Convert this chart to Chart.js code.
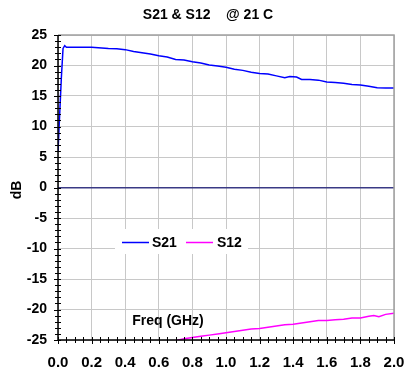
<!DOCTYPE html>
<html><head><meta charset="utf-8">
<script src="https://cdn.jsdelivr.net/npm/chart.js@4.4.1/dist/chart.umd.min.js"></script>
<style>html,body{margin:0;padding:0;background:#fff}#wrap{width:405px;height:371px}</style>
</head><body><div id="wrap"><canvas id="c" width="405" height="371"></canvas></div>
<script>
const titleText = 'S21 & S12    @ 21 C';
const xTitle = 'Freq (GHz)';
const yTitle = 'dB';
const seriesNames = ['S21', 'S12'];
const xTicks = [0, 0.2, 0.4, 0.6, 0.8, 1.0, 1.2, 1.4, 1.6, 1.8, 2.0];
const yTicks = [-25, -20, -15, -10, -5, 0, 5, 10, 15, 20, 25];
const s21Freq = [0, 0.01, 0.02, 0.03, 0.04, 0.05, 0.1, 0.2, 0.3, 0.35, 0.4, 0.45, 0.5, 0.55, 0.6, 0.65, 0.7, 0.75, 0.8, 0.85, 0.9, 0.95, 1.0, 1.05, 1.1, 1.15, 1.2, 1.25, 1.3, 1.35, 1.38, 1.42, 1.45, 1.5, 1.55, 1.6, 1.65, 1.7, 1.75, 1.8, 1.85, 1.9, 1.95, 2.0];
const s21Values = [5.9, 12, 18, 22.8, 23.25, 23.0, 23.0, 23.0, 22.8, 22.75, 22.6, 22.3, 22.1, 21.9, 21.6, 21.4, 21.0, 20.9, 20.6, 20.4, 20.1, 19.9, 19.7, 19.4, 19.2, 18.9, 18.7, 18.6, 18.3, 18.0, 18.2, 18.1, 17.7, 17.7, 17.6, 17.3, 17.2, 17.1, 16.9, 16.8, 16.6, 16.35, 16.3, 16.3];
const s12Freq = [0.5, 0.6, 0.7, 0.75, 0.8, 0.85, 0.9, 0.95, 1.0, 1.05, 1.1, 1.15, 1.2, 1.25, 1.3, 1.35, 1.4, 1.45, 1.5, 1.55, 1.6, 1.65, 1.7, 1.75, 1.8, 1.85, 1.88, 1.91, 1.95, 2.0];
const s12Values = [-26.5, -25.8, -25.1, -24.8, -24.6, -24.4, -24.2, -24.0, -23.8, -23.6, -23.4, -23.2, -23.1, -22.9, -22.7, -22.5, -22.4, -22.2, -22.0, -21.8, -21.8, -21.7, -21.6, -21.4, -21.4, -21.1, -21.0, -21.2, -20.8, -20.6];

const FONT = "'Liberation Sans', Arial, sans-serif";
const toXY = (xs, ys) => xs.map((x, i) => ({x: x, y: ys[i]}));

const extras = {
  id: 'extras',
  beforeDatasetsDraw(chart) {
    const ctx = chart.ctx;
    ctx.save();
    ctx.fillStyle = '#fff';
    ctx.fillRect(115, 229, 133, 25);
    ctx.lineWidth = 1.5;
    ctx.strokeStyle = '#0000ff';
    ctx.beginPath(); ctx.moveTo(122, 242.5); ctx.lineTo(149, 242.5); ctx.stroke();
    ctx.strokeStyle = '#ff00ff';
    ctx.beginPath(); ctx.moveTo(186, 242.5); ctx.lineTo(213, 242.5); ctx.stroke();
    ctx.fillStyle = '#000';
    ctx.font = 'bold 14px ' + FONT;
    ctx.textBaseline = 'middle';
    ctx.textAlign = 'left';
    ctx.fillText(seriesNames[0], 152, 243);
    ctx.fillText(seriesNames[1], 217, 243);
    ctx.textAlign = 'center';
    ctx.fillText(xTitle, 168, 321);
    ctx.restore();
  },
  afterDraw(chart) {
    const ctx = chart.ctx;
    const a = chart.chartArea;
    const xs = chart.scales.x, ys = chart.scales.y;
    ctx.save();
    ctx.strokeStyle = '#a0a0a0';
    ctx.lineWidth = 1.5;
    ctx.beginPath();
    ctx.moveTo(a.left, a.top); ctx.lineTo(a.right, a.top); ctx.lineTo(a.right, a.bottom);
    ctx.stroke();
    ctx.strokeStyle = '#000';
    ctx.beginPath();
    ctx.moveTo(a.left, a.top); ctx.lineTo(a.left, a.bottom); ctx.lineTo(a.right, a.bottom);
    ctx.stroke();
    ctx.lineWidth = 1;
    ctx.beginPath();
    for (let v = -25; v <= 25; v++) {
      const p = Math.round(ys.getPixelForValue(v)) + 0.5;
      const l = (v % 5 === 0) ? 4 : 3;
      ctx.moveTo(a.left - l, p); ctx.lineTo(a.left + 3, p);
    }
    for (let i = 0; i <= 40; i++) {
      const p = Math.round(xs.getPixelForValue(i * 0.05)) + 0.5;
      const l = (i % 4 === 0) ? 4 : 3;
      ctx.moveTo(p, a.bottom - 3); ctx.lineTo(p, a.bottom + l);
    }
    ctx.stroke();
    ctx.fillStyle = '#000';
    ctx.font = 'bold 14px ' + FONT;
    ctx.textAlign = 'center';
    ctx.textBaseline = 'middle';
    ctx.fillText(titleText, 208, 15);
    ctx.translate(17, 190);
    ctx.rotate(-Math.PI / 2);
    ctx.fillText(yTitle, 0, 0);
    ctx.restore();
  }
};

new Chart(document.getElementById('c'), {
  type: 'line',
  data: {
    datasets: [
      {label: seriesNames[0], data: toXY(s21Freq, s21Values), borderColor: '#0000ff', borderWidth: 1.5, pointRadius: 0, tension: 0, fill: false},
      {label: seriesNames[1], data: toXY(s12Freq, s12Values), borderColor: '#ff00ff', borderWidth: 1.5, pointRadius: 0, tension: 0, fill: false}
    ]
  },
  options: {
    responsive: false,
    animation: false,
    devicePixelRatio: 1,
    layout: {padding: {top: 35, right: 11, left: 0, bottom: 0}},
    plugins: {legend: {display: false}, title: {display: false}, tooltip: {enabled: false}},
    scales: {
      x: {
        type: 'linear', min: 0, max: 2,
        afterBuildTicks: s => { s.ticks = xTicks.map(v => ({value: v})); },
        afterFit: s => { s.height = 31; s.paddingLeft = 0; s.paddingRight = 0; },
        ticks: {callback: v => Number(v).toFixed(1), font: {family: FONT, size: 15, weight: 'bold'}, color: '#000', padding: 14, maxRotation: 0, autoSkip: false},
        grid: {color: '#c8c8c8', lineWidth: 1, drawTicks: false},
        border: {display: false}
      },
      y: {
        type: 'linear', min: -25, max: 25,
        afterBuildTicks: s => { s.ticks = yTicks.map(v => ({value: v})); },
        afterFit: s => { s.width = 58; s.paddingTop = 0; s.paddingBottom = 0; },
        ticks: {font: {family: FONT, size: 14, weight: 'bold'}, color: '#000', padding: 11, autoSkip: false},
        grid: {color: c => c.tick && c.tick.value === 0 ? '#3a3a85' : '#c8c8c8', lineWidth: c => c.tick && c.tick.value === 0 ? 1.5 : 1, drawTicks: false},
        border: {display: false}
      }
    }
  },
  plugins: [extras]
});
</script>
</body></html>
